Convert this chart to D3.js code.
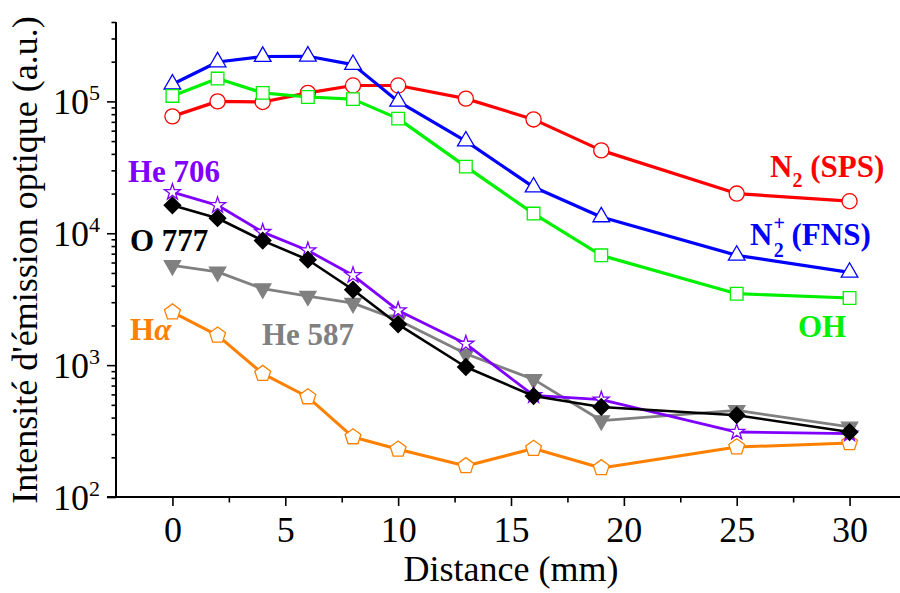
<!DOCTYPE html>
<html><head><meta charset="utf-8">
<script src="https://cdn.jsdelivr.net/npm/d3@7"></script>
<style>html,body{margin:0;padding:0;background:#fff;}svg{display:block;}</style>
</head><body>
<svg id="chart" width="900" height="593"></svg>
<script>
const distances = [0, 2, 4, 6, 8, 10, 13, 16, 19, 25, 30];
const n2SPS   = [77000, 100000, 99000, 116000, 132000, 132000, 105000, 73000, 42500, 20000, 17500];
const n2FNS   = [135000, 199000, 219000, 220000, 190000, 100000, 50000, 22400, 13300, 6800, 5050];
const oh      = [110000, 149000, 116000, 108000, 104000, 74000, 32000, 14100, 6800, 3480, 3230];
const he706   = [20500, 16300, 10200, 7400, 4800, 2600, 1450, 590, 547, 311, 302];
const o777    = [16300, 13000, 8800, 6300, 3730, 2040, 968, 583, 482, 417, 311];
const he587   = [5700, 5100, 3800, 3340, 2950, 2200, 1220, 780, 380, 454, 340];
const hAlpha  = [2520, 1680, 861, 573, 285, 230, 172, 233, 166, 239, 257];
const xTicks = [0, 5, 10, 15, 20, 25, 30];
const yTicks = [100, 1000, 10000, 100000];

const svg = d3.select("#chart");
const font = "'Liberation Serif', 'Times New Roman', serif";
const x = d3.scaleLinear().domain([-2.5, 32.5]).range([116, 906]);
const y = d3.scaleLog().domain([100, 400000]).range([497, 22]);

// y axis
const yMinor = [];
for (let e = 2; e <= 5; e++) for (let m = 2; m <= 9; m++) { const v = m * Math.pow(10, e); if (v <= 400000) yMinor.push(v); }
const yAxMinor = svg.append("g").attr("transform", "translate(116,0)")
  .call(d3.axisLeft(y).tickValues(yMinor).tickSize(4.5).tickFormat(""));
const yAx = svg.append("g").attr("transform", "translate(116,0)")
  .call(d3.axisLeft(y).tickValues(yTicks).tickSize(9).tickFormat(""));
[yAxMinor, yAx].forEach(g => { g.selectAll("line").attr("stroke", "#000").attr("stroke-width", 1.6); g.select(".domain").remove(); });
svg.append("line").attr("x1", 116).attr("x2", 116).attr("y1", y(400000)).attr("y2", 498).attr("stroke", "#000").attr("stroke-width", 2);

yTicks.forEach(v => {
  const t = svg.append("text").attr("x", 100).attr("y", y(v) + 13).attr("text-anchor", "end")
    .style("font-family", font).style("font-size", "36px").attr("fill", "#000");
  t.append("tspan").text("10");
  t.append("tspan").attr("dy", -14).style("font-size", "22px").text(String(Math.round(Math.log10(v))));
});

// x axis
const xMinor = [2.5, 7.5, 12.5, 17.5, 22.5, 27.5];
const xAxMinor = svg.append("g").attr("transform", "translate(0,497)")
  .call(d3.axisBottom(x).tickValues(xMinor).tickSize(5.5).tickFormat(""));
const xAx = svg.append("g").attr("transform", "translate(0,497)")
  .call(d3.axisBottom(x).tickValues(xTicks).tickSize(9).tickFormat(d3.format("d")));
[xAxMinor, xAx].forEach(g => { g.selectAll("line").attr("stroke", "#000").attr("stroke-width", 1.6); g.select(".domain").remove(); });
xAx.selectAll("text").style("font-family", font).style("font-size", "36px").attr("fill", "#000").attr("dy", null).attr("y", 45);
svg.append("line").attr("x1", 107).attr("x2", 900).attr("y1", 497).attr("y2", 497).attr("stroke", "#000").attr("stroke-width", 2);

// titles
svg.append("text").attr("x", 511).attr("y", 581).attr("text-anchor", "middle")
  .style("font-family", font).style("font-size", "36px").text("Distance (mm)");
svg.append("text").attr("transform", "translate(37,260) rotate(-90)").attr("text-anchor", "middle")
  .style("font-family", font).style("font-size", "36px").text("Intensité d'émission optique (a.u.)");

// custom symbol types
const pentagon = { draw(ctx, size) { const r = Math.sqrt(size / 2.378); for (let i = 0; i < 5; i++) { const a = -Math.PI / 2 + i * 2 * Math.PI / 5; const px = r * Math.cos(a), py = r * Math.sin(a); i ? ctx.lineTo(px, py) : ctx.moveTo(px, py); } ctx.closePath(); } };

const series = [
  { vals: n2SPS, color: "#ff0000", lw: 3.2, sym: d3.symbolCircle, size: 180, fill: "#fff", rot: 0 },
  { vals: n2FNS, color: "#0000ff", lw: 3.2, sym: d3.symbolTriangle, size: 120, fill: "#fff", rot: 0 },
  { vals: oh, color: "#00f000", lw: 3.2, sym: d3.symbolSquare, size: 160, fill: "#fff", rot: 0 },
  { vals: hAlpha, color: "#ff8000", lw: 3, sym: pentagon, size: 165, fill: "#fff", rot: 0 },
  { vals: he587, color: "#808080", lw: 2.8, sym: d3.symbolTriangle, size: 115, fill: "#808080", rot: 180 },
  { vals: he706, color: "#7f00ff", lw: 2.8, sym: d3.symbolStar, size: 80, fill: "#fff", rot: 0 },
  { vals: o777, color: "#000000", lw: 2.6, sym: d3.symbolSquare, size: 135, fill: "#000", rot: 45 }
];
const line = d3.line().x((d, i) => x(distances[i])).y(d => y(d));
series.forEach(s => {
  const g = svg.append("g");
  g.append("path").datum(s.vals).attr("d", line).attr("fill", "none").attr("stroke", s.color).attr("stroke-width", s.lw).attr("stroke-linejoin", "round");
  g.selectAll("path.m").data(s.vals).join("path").attr("class", "m")
    .attr("d", d3.symbol().type(s.sym).size(s.size))
    .attr("transform", (d, i) => `translate(${x(distances[i])},${y(d)}) rotate(${s.rot})`)
    .attr("fill", s.fill).attr("stroke", s.color).attr("stroke-width", 1.3);
});

// annotations
function label(xp, yp, color, parts) {
  const t = svg.append("text").attr("x", xp).attr("y", yp).attr("fill", color)
    .style("font-family", font).style("font-size", "31px").style("font-weight", "bold");
  parts.forEach(p => { const ts = t.append("tspan").text(p.t); if (p.dy) ts.attr("dy", p.dy); if (p.fs) ts.style("font-size", p.fs); if (p.it) ts.style("font-style", "italic"); if (p.dx) ts.attr("dx", p.dx); });
}
label(770, 177, "#ff0000", [{ t: "N" }, { t: "2", dy: 10, fs: "20px" }, { t: " (SPS)", dy: -10 }]);
label(750, 245, "#0000ff", [{ t: "N" }, { t: "+", dy: -15, fs: "20px", dx: 1 }, { t: "2", dy: 27, fs: "20px", dx: -11 }, { t: " (FNS)", dy: -12 }]);
label(798, 337, "#00f000", [{ t: "OH" }]);
label(128, 182, "#7f00ff", [{ t: "He 706" }]);
label(130, 251, "#000000", [{ t: "O 777" }]);
label(130, 340, "#ff8000", [{ t: "H" }, { t: "α", it: true }]);
label(262, 345, "#808080", [{ t: "He 587" }]);
</script>
</body></html>
